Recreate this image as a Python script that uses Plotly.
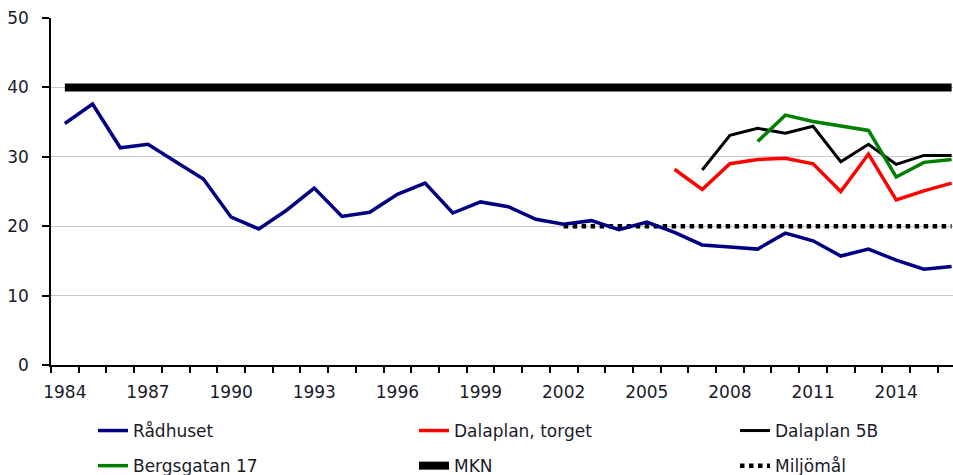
import plotly.graph_objects as go

years = list(range(1984, 2017))

radhuset = [34.8, 37.6, 31.3, 31.8, 29.3, 26.8, 21.3, 19.6, 22.3, 25.5,
            21.4, 22.0, 24.6, 26.2, 21.9, 23.5, 22.8, 21.0, 20.3, 20.8,
            19.5, 20.6, 19.1, 17.3, 17.0, 16.7, 19.0, 17.9, 15.7, 16.7,
            15.1, 13.8, 14.2]

dalaplan_torget_years = list(range(2006, 2017))
dalaplan_torget = [28.2, 25.3, 29.0, 29.6, 29.8, 29.0, 25.0, 30.4, 23.8, 25.1, 26.2]

dalaplan_5b_years = list(range(2007, 2017))
dalaplan_5b = [28.1, 33.1, 34.1, 33.4, 34.4, 29.3, 31.8, 28.9, 30.2, 30.2]

bergsgatan_years = list(range(2009, 2017))
bergsgatan = [32.2, 36.0, 35.1, 34.4, 33.8, 27.1, 29.2, 29.6]

mkn_years = list(range(1984, 2017))
mkn = [40] * len(mkn_years)

miljomal_years = list(range(2002, 2017))
miljomal = [20] * len(miljomal_years)

FONT = "DejaVu Sans"
TXT = "#1a1a2a"
FS = 17

fig = go.Figure()
fig.add_trace(go.Scatter(x=mkn_years, y=mkn, mode="lines", name="MKN",
                         line=dict(color="#000000", width=8),
                         legend="legend2", legendgroup="g5", legendrank=2))
fig.add_trace(go.Scatter(x=miljomal_years, y=miljomal, mode="lines", name="Miljömål",
                         line=dict(color="#000000", width=4.5, dash="dot"),
                         legend="legend3", legendgroup="g6", legendrank=2))
fig.add_trace(go.Scatter(x=years, y=radhuset, mode="lines", name="Rådhuset",
                         line=dict(color="#000080", width=3.5),
                         legend="legend", legendgroup="g1", legendrank=1))
fig.add_trace(go.Scatter(x=dalaplan_torget_years, y=dalaplan_torget, mode="lines",
                         name="Dalaplan, torget", line=dict(color="#ff0000", width=3.5),
                         legend="legend2", legendgroup="g2", legendrank=1))
fig.add_trace(go.Scatter(x=dalaplan_5b_years, y=dalaplan_5b, mode="lines",
                         name="Dalaplan 5B", line=dict(color="#000000", width=3),
                         legend="legend3", legendgroup="g3", legendrank=1))
fig.add_trace(go.Scatter(x=bergsgatan_years, y=bergsgatan, mode="lines",
                         name="Bergsgatan 17", line=dict(color="#008000", width=3.5),
                         legend="legend", legendgroup="g4", legendrank=2))

legend_common = dict(orientation="v", xanchor="left", yanchor="top",
                     xref="paper", yref="container", y=(475 - 413) / 475,
                     tracegroupgap=10,
                     font=dict(family=FONT, size=FS, color=TXT),
                     bgcolor="rgba(0,0,0,0)", traceorder="grouped")

def px_to_paper(px):
    return (px - 51) / 902

fig.update_layout(
    width=953, height=475,
    margin=dict(l=51, r=0, t=18, b=110),
    paper_bgcolor="white", plot_bgcolor="white",
    font=dict(family=FONT, size=FS, color=TXT),
    showlegend=True,
    legend=dict(x=px_to_paper(93), **legend_common),
    legend2=dict(x=px_to_paper(414), **legend_common),
    legend3=dict(x=px_to_paper(735), **legend_common),
    xaxis=dict(
        range=[1983.5, 2016.05], tickmode="linear", tick0=1984, dtick=3,
        ticks="", showgrid=False, zeroline=False, automargin=False,
        showline=True, linecolor="#000000", linewidth=1.5,
        tickfont=dict(family=FONT, size=FS, color=TXT),
        ticklabelstandoff=11,
        minor=dict(tick0=1983.5, dtick=1, ticks="outside", ticklen=6,
                   tickcolor="#000000", tickwidth=1.5, showgrid=False),
    ),
    yaxis=dict(
        range=[0, 50], tickmode="linear", tick0=0, dtick=10,
        ticks="outside", ticklen=7, tickcolor="#000000", tickwidth=1.5,
        showgrid=True, gridcolor="#c8c8c8", gridwidth=1, automargin=False,
        zeroline=False, showline=True, linecolor="#000000", linewidth=1.5,
        tickfont=dict(family=FONT, size=FS, color=TXT),
        ticklabelstandoff=10,
    ),
)

fig.write_html("out.html", config={"displayModeBar": False},
               post_script="document.body.style.margin='0';document.body.style.overflow='hidden';")
